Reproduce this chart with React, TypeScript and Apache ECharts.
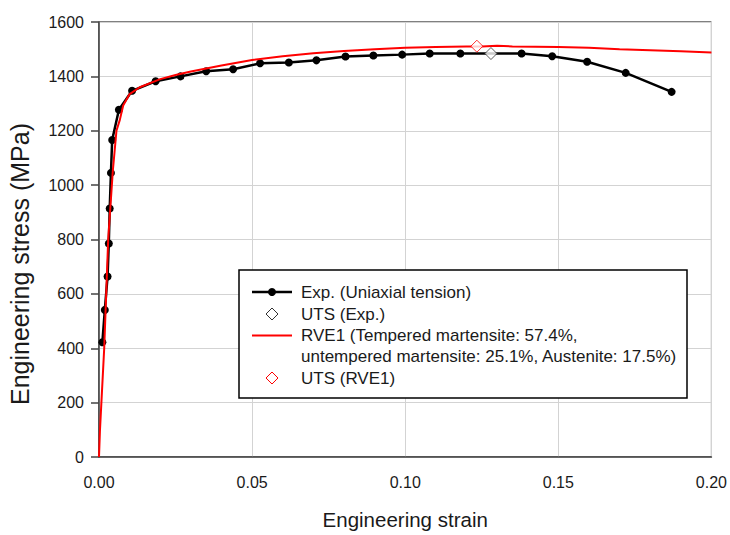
import React, { useEffect, useRef } from "react";
import * as echarts from "echarts";

// Experimental curve (uniaxial tension)
const expStrain = [0.0011, 0.0019, 0.0028, 0.0032, 0.0035, 0.0039, 0.0043, 0.0065, 0.0108, 0.0185, 0.0266, 0.035, 0.0438, 0.0526, 0.062, 0.071, 0.0805, 0.0896, 0.099, 0.108, 0.118, 0.138, 0.148, 0.1594, 0.172, 0.187];
const expStress = [422, 541, 664, 785, 914, 1045, 1166, 1277, 1347, 1382, 1400, 1419, 1426, 1448, 1451, 1459, 1473, 1477, 1480, 1484, 1484, 1484, 1474, 1454, 1413, 1343];

// RVE1 simulation curve
const rveStrain = [0, 0.0003, 0.0017, 0.003, 0.0045, 0.0057, 0.0068, 0.0079, 0.01, 0.0133, 0.02, 0.025, 0.03, 0.04, 0.05, 0.06, 0.07, 0.08, 0.09, 0.1, 0.11, 0.12, 0.125, 0.13, 0.135, 0.15, 0.16, 0.17, 0.18, 0.19, 0.2];
const rveStress = [0, 95, 400, 800, 1050, 1200, 1240, 1293, 1335, 1360, 1390, 1405, 1418, 1440, 1460, 1474, 1485, 1493, 1500, 1505, 1508, 1510, 1510, 1513, 1510, 1508, 1505, 1500, 1496, 1492, 1488];

// Ultimate tensile strength points
const utsExpPoint = [0.128, 1484];
const utsRvePoint = [0.1234, 1511];

// Legend texts
const legendLabels = [
  "Exp. (Uniaxial tension)",
  "UTS (Exp.)",
  "RVE1 (Tempered martensite: 57.4%,",
  "untempered martensite: 25.1%, Austenite: 17.5%)",
  "UTS (RVE1)",
];

const FONT = "'Liberation Sans', Arial, sans-serif";
const TXT = "#1a1a1a";

function diamond(cx: number, cy: number, r: number) {
  return [
    [cx, cy - r],
    [cx + r, cy],
    [cx, cy + r],
    [cx - r, cy],
  ];
}

export default function App() {
  const ref = useRef<HTMLDivElement>(null);
  useEffect(() => {
    if (!ref.current) return;
    const chart = echarts.init(ref.current, null, { renderer: "svg" });
    const expData = expStrain.map((x, i) => [x, expStress[i]]);
    const rveData = rveStrain.map((x, i) => [x, rveStress[i]]);
    const rowY = [292, 314, 335.5, 356.5, 378];
    const legendGraphics: any[] = [
      {
        type: "rect",
        shape: { x: 239, y: 270, width: 448, height: 128 },
        style: { fill: "#fff", stroke: "#000", lineWidth: 1.5 },
        z: 100,
      },
      {
        type: "line",
        shape: { x1: 252, y1: rowY[0], x2: 292, y2: rowY[0] },
        style: { stroke: "#000", lineWidth: 2.5 },
        z: 101,
      },
      {
        type: "circle",
        shape: { cx: 272, cy: rowY[0], r: 4 },
        style: { fill: "#000" },
        z: 101,
      },
      {
        type: "polygon",
        shape: { points: diamond(272, rowY[1], 6) },
        style: { fill: "#fff", stroke: "#333", lineWidth: 1 },
        z: 101,
      },
      {
        type: "line",
        shape: { x1: 252, y1: rowY[2], x2: 292, y2: rowY[2] },
        style: { stroke: "#ff0000", lineWidth: 2 },
        z: 101,
      },
      {
        type: "polygon",
        shape: { points: diamond(272, rowY[4], 6) },
        style: { fill: "#fff", stroke: "#ff0000", lineWidth: 1 },
        z: 101,
      },
      ...legendLabels.map((t, i) => ({
        type: "text",
        x: 301,
        y: rowY[i],
        style: {
          text: t,
          fill: TXT,
          font: `17px ${FONT}`,
          textVerticalAlign: "middle",
          textAlign: "left",
        },
        z: 101,
      })),
      {
        type: "text",
        x: 20,
        y: 264,
        rotation: Math.PI / 2,
        style: {
          text: "Engineering stress (MPa)",
          fill: TXT,
          font: `25px ${FONT}`,
          textAlign: "center",
          textVerticalAlign: "middle",
        },
      },
    ];

    chart.setOption({
      animation: false,
      backgroundColor: "#fff",
      grid: {
        left: 99,
        top: 22,
        right: 17,
        bottom: 72,
        show: true,
        borderColor: "#000",
        borderWidth: 1,
        backgroundColor: "transparent",
      },
      xAxis: {
        type: "value",
        min: 0,
        max: 0.2,
        interval: 0.05,
        name: "Engineering strain",
        nameLocation: "middle",
        nameGap: 52,
        nameTextStyle: { fontFamily: FONT, fontSize: 20.5, color: TXT },
        axisLine: { show: true, onZero: false, lineStyle: { color: "#444", width: 1.5 } },
        axisTick: { show: false },
        axisLabel: {
          margin: 17,
          fontFamily: FONT,
          fontSize: 16,
          color: TXT,
          formatter: (v: number) => v.toFixed(2),
        },
        splitLine: { show: true, lineStyle: { color: "#d3d3d3", width: 1 } },
      },
      yAxis: {
        type: "value",
        min: 0,
        max: 1600,
        interval: 200,
        axisLine: { show: true, onZero: false, lineStyle: { color: "#444", width: 1.5 } },
        axisTick: { show: true, inside: false, length: 8, lineStyle: { color: "#444", width: 1.5 } },
        axisLabel: {
          margin: 15,
          fontFamily: FONT,
          fontSize: 16,
          color: TXT,
          formatter: (v: number) => String(v),
        },
        splitLine: { show: true, lineStyle: { color: "#d3d3d3", width: 1 } },
      },
      series: [
        {
          name: "Exp. (Uniaxial tension)",
          type: "line",
          data: expData,
          symbol: "circle",
          symbolSize: 8,
          showSymbol: true,
          itemStyle: { color: "#000" },
          lineStyle: { color: "#000", width: 2.5 },
          z: 2,
        },
        {
          name: "RVE1",
          type: "line",
          data: rveData,
          symbol: "none",
          lineStyle: { color: "#ff0000", width: 2 },
          z: 3,
        },
        {
          name: "UTS (Exp.)",
          type: "scatter",
          data: [utsExpPoint],
          symbol: "diamond",
          symbolSize: 12,
          itemStyle: { color: "#fff", borderColor: "#333", borderWidth: 1 },
          z: 4,
        },
        {
          name: "UTS (RVE1)",
          type: "scatter",
          data: [utsRvePoint],
          symbol: "diamond",
          symbolSize: 12,
          itemStyle: { color: "#fff", borderColor: "#ff0000", borderWidth: 1 },
          z: 4,
        },
      ],
      graphic: legendGraphics,
    });
    return () => chart.dispose();
  }, []);
  return (
    <div
      ref={ref}
      style={{ position: "fixed", left: 0, top: 0, width: 730, height: 535, background: "#fff" }}
    />
  );
}
